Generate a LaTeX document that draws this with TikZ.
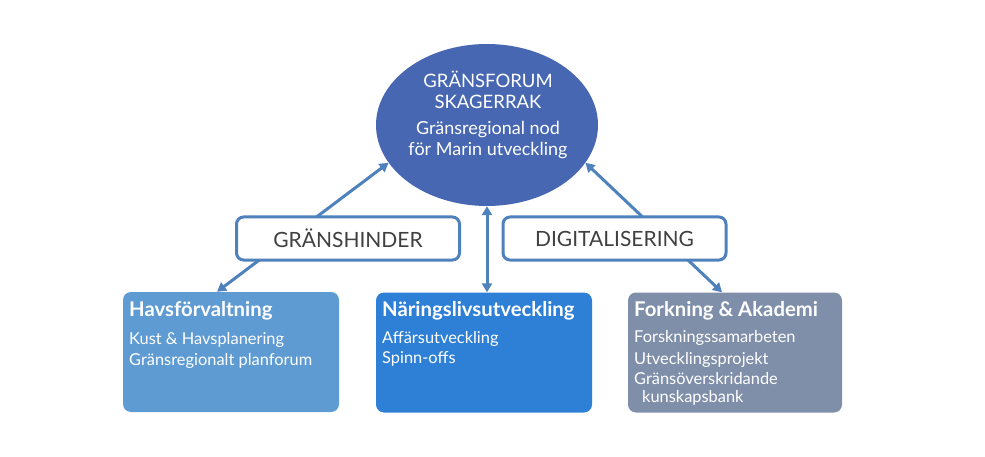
\documentclass[tikz,border=0pt]{standalone}
\usepackage{fontspec}
\setmainfont{Lato}
\usetikzlibrary{shapes.geometric,arrows.meta}
\definecolor{ellblue}{HTML}{4767B2}
\definecolor{edgeblue}{HTML}{4F81BD}
\definecolor{havsblue}{HTML}{5E9BD3}
\definecolor{narblue}{HTML}{2E7FD6}
\definecolor{forkgray}{HTML}{7F8FA9}
\definecolor{labelgray}{HTML}{404040}
\tikzset{
  conn/.style={draw=edgeblue, line width=3pt, {Triangle[width=10pt,length=9pt]}-{Triangle[width=10pt,length=9pt]}},
  catbox/.style={rounded corners=8pt, minimum width=216pt, minimum height=120pt, inner sep=0pt},
  labelbox/.style={draw=edgeblue, line width=3pt, fill=white, rounded corners=7pt, minimum width=223pt, minimum height=43pt, inner sep=0pt, text=labelgray, font=\fontsize{21}{23}\selectfont},
  boxtitle/.style={anchor=base west, text=white, inner sep=0pt, font=\fontsize{20.3}{22}\selectfont\bfseries},
  boxitem/.style={anchor=base west, text=white, inner sep=0pt, font=\fontsize{16.4}{19}\selectfont}
}
\begin{document}
\begin{tikzpicture}[x=1pt,y=-1pt]
\useasboundingbox (0,0) rectangle (985,457);
% main ellipse
\node[ellipse, fill=ellblue, minimum width=222pt, minimum height=162pt, inner sep=0pt] (ell) at (487,125) {};
\node[text=white, align=center, font=\fontsize{18.5}{21}\selectfont] (ellt1) at (488,90) {GRÄNSFORUM\\SKAGERRAK};
\node[text=white, align=center, font=\fontsize{18}{21}\selectfont] (ellt2) at (488,140) {Gränsregional nod\\för Marin utveckling};
% category boxes
\node[catbox, fill=havsblue] (havs) at (231,352) {};
\node[catbox, fill=narblue] (nar) at (484,352.5) {};
\node[catbox, fill=forkgray, minimum width=214pt] (fork) at (735,352.5) {};
\node[boxtitle] (havs0) at (129,316) {Havsförvaltning};
\node[boxitem] (havs1) at (129,344.5) {Kust \& Havsplanering};
\node[boxitem] (havs2) at (129,365.5) {Gränsregionalt planforum};
\node[boxtitle] (nar0) at (382,316) {Näringslivsutveckling};
\node[boxitem] (nar1) at (382,343) {Affärsutveckling};
\node[boxitem] (nar2) at (382,363.5) {Spinn-offs};
\node[boxtitle] (fork0) at (634,316) {Forkning \& Akademi};
\node[boxitem] (fork1) at (634,342) {Forskningssamarbeten};
\node[boxitem] (fork2) at (634,364) {Utvecklingsprojekt};
\node[boxitem] (fork3) at (634,384) {Gränsöverskridande};
\node[boxitem] (fork4) at (642,402) {kunskapsbank};
% connectors
\draw[conn] (ell.201) -- ([xshift=-14pt]havs.north);
\draw[conn] (ell.south) -- (ell.south |- nar.north);
\draw[conn] (ell.339) -- ([xshift=-13pt]fork.north);
% label boxes
\node[labelbox] (hinder) at (348,238.5) {GRÄNSHINDER};
\node[labelbox] (digit) at (614.5,238.5) {DIGITALISERING};
\end{tikzpicture}
\end{document}
